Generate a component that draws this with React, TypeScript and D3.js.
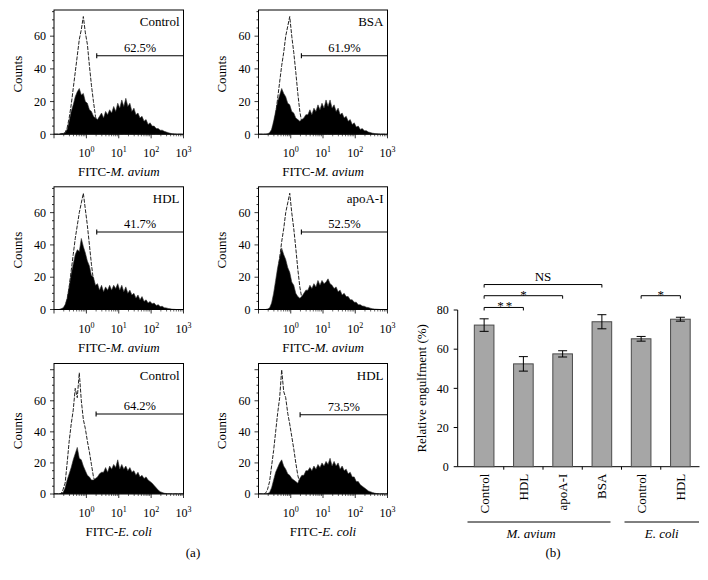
import React from "react";
import * as d3 from "d3";

const FONT = "'Liberation Serif','Times New Roman',Times,serif";

// ---------- Flow cytometry histograms (64 log bins from 10^-1 to 10^3) ----------
const ctrlMavBlack = [0,0,0,0.5,0.5,1,3,8,14,18,23,26,28,24,25,20,19,15,14,11,10,9,11,13,10,14,12,15,13,17,14,19,16,21,17,22,17,19,14,16,12,13,10,11,8,9,6,7,5,5,3.5,3.5,2.5,2.5,1.8,1.4,1,0.6,0.4,0.2,0.1,0,0,0];
const ctrlMavOpen = [0,0,0,0,0.5,1,4,10,18,28,38,48,58,64,72,62,55,42,30,20,11,6,3,1.5,1,0.5,0,0,0,0,0,0,0,0,0,0,0,0,0,0,0,0,0,0,0,0,0,0,0,0,0,0,0,0,0,0,0,0,0,0,0,0,0,0];
const bsaBlack = [0,0,0,0,0.3,1,3,8,14,20,24,28,25,23,19,18,14,13,10,9,8,9,10,12,12,15,12,16,14,18,15,19,16,21,17,21,16,18,14,16,12,13,10,11,8,9,6,7,4.5,5,3,3.5,2.2,2.2,1.4,1.1,0.7,0.5,0.3,0.2,0.1,0,0,0];
const bsaOpen = [0,0,0,0,0,0.5,2,6,12,22,32,42,50,60,66,72,60,50,38,25,14,7,3,1.5,1,0.5,0,0,0,0,0,0,0,0,0,0,0,0,0,0,0,0,0,0,0,0,0,0,0,0,0,0,0,0,0,0,0,0,0,0,0,0,0,0];
const hdlMavBlack = [0,0,0,0.5,1,3,7,14,22,28,34,37,36,44,39,35,30,27,21,20,15,16,12,15,11,14,12,15,12,15,13,16,12,15,11,14,10,12,9,10,7,9,6,8,5,6,4,5,3.5,4,2.5,3,1.8,2,1.1,1,0.6,0.4,0.2,0.1,0,0,0,0];
const hdlMavOpen = [0,0,0,0,0.5,2,6,14,24,34,44,52,60,66,72,62,52,40,28,18,10,5,2.5,1,0.5,0,0,0,0,0,0,0,0,0,0,0,0,0,0,0,0,0,0,0,0,0,0,0,0,0,0,0,0,0,0,0,0,0,0,0,0,0,0,0];
const apoBlack = [0,0,0,0,0.3,1,4,10,18,26,32,38,34,31,26,23,17,15,10,8,7,8,10,12,12,15,13,16,14,18,15,18,16,17,19,16,15,13,14,11,12,9,10,8,8,6,6,4.5,4.5,3,3,2.2,2,1.4,1.2,0.8,0.5,0.3,0.2,0.1,0,0,0,0];
const apoOpen = [0,0,0,0,0,0.5,2,6,12,22,32,42,50,60,66,72,60,50,38,25,14,7,3,1.5,1,0.5,0,0,0,0,0,0,0,0,0,0,0,0,0,0,0,0,0,0,0,0,0,0,0,0,0,0,0,0,0,0,0,0,0,0,0,0,0,0];
const ctrlEcoBlack = [0,0,0,0.5,1,4,9,13,17,22,26,30,23,22,18,15,12,11,9,9,10,11,13,14,14,17,14,18,16,19,17,22,16,19,16,18,15,17,14,15,12,14,11,12,10,11,9,8,7,5.5,4,2.5,1.5,1,0.5,0.3,0.1,0,0,0,0,0,0,0];
const ctrlEcoOpen = [0,0,0,0,3,7,20,34,45,54,68,62,78,60,48,42,34,27,19,11,7,3,1.5,0.5,0,0,0,0,0,0,0,0,0,0,0,0,0,0,0,0,0,0,0,0,0,0,0,0,0,0,0,0,0,0,0,0,0,0,0,0,0,0,0,0];
const hdlEcoBlack = [0,0,0,0,0.3,1,4,9,14,17,20,22,18,16,13,12,10,9,8,7,10,12,12,15,15,17,15,18,16,19,17,20,18,21,19,23,18,21,18,20,16,18,15,16,13,14,11,11,8,8,6,5,4,3,2,1.5,1,0.6,0.3,0.1,0,0,0,0];
const hdlEcoOpen = [0,0,0,0.5,3,8,18,28,40,52,62,80,66,62,52,45,37,29,20,12,7,3,1.5,0.5,0,0,0,0,0,0,0,0,0,0,0,0,0,0,0,0,0,0,0,0,0,0,0,0,0,0,0,0,0,0,0,0,0,0,0,0,0,0,0,0];

const panelNames = ["Control", "BSA", "HDL", "apoA-I", "Control", "HDL"];
const panelPercents = ["62.5%", "61.9%", "41.7%", "52.5%", "64.2%", "73.5%"];
const panelBacteria = ["M. avium", "M. avium", "M. avium", "M. avium", "E. coli", "E. coli"];
const panelBlack = [ctrlMavBlack, bsaBlack, hdlMavBlack, apoBlack, ctrlEcoBlack, hdlEcoBlack];
const panelOpen = [ctrlMavOpen, bsaOpen, hdlMavOpen, apoOpen, ctrlEcoOpen, hdlEcoOpen];
const gateStart = [0.32, 0.33, 0.32, 0.33, 0.3, 0.29];
const gateLevel = [48, 48, 48, 48, 51.5, 51];
const countMax = [76, 76, 76, 76, 84, 84];
const countTickLabels = [0, 20, 40, 60];
const decadeLabels = [0, 1, 2, 3];

// ---------- Bar chart ----------
const barCategories = ["Control", "HDL", "apoA-I", "BSA", "Control", "HDL"];
const engulfment = [72.3, 52.5, 57.6, 74, 65.3, 75.3];
const engulfErr = [3.2, 3.7, 1.6, 3.6, 1.2, 1.0];
const barTicks = [0, 20, 40, 60, 80];
const brackets = [
  { from: 0, to: 1, level: 81.3, label: "**" },
  { from: 0, to: 2, level: 87.3, label: "*" },
  { from: 0, to: 3, level: 93, label: "NS" },
  { from: 4, to: 5, level: 87.3, label: "*" },
];
const groups = [
  { label: "M. avium", from: 0, to: 3 },
  { label: "E. coli", from: 4, to: 5 },
];

// ---------- layout ----------
const cols = [
  { x0: 54, x1: 183.5 },
  { x0: 258.5, x1: 387.5 },
];
const rows = [
  { y0: 10, y1: 134.3 },
  { y0: 186.8, y1: 309.5 },
  { y0: 363.5, y1: 494 },
];

function Histogram({ i }: { i: number }) {
  const { x0, x1 } = cols[i % 2];
  const { y0, y1 } = rows[Math.floor(i / 2)];
  const x = d3.scaleLinear().domain([-1, 3]).range([x0, x1]);
  const y = d3.scaleLinear().domain([0, countMax[i]]).range([y1, y0]);
  const toPts = (arr: number[]) => {
    const p = arr.map((v, k) => ({ e: -1 + (k + 0.5) / 16, v }));
    return [{ e: -1, v: arr[0] }, ...p, { e: 3, v: arr[arr.length - 1] }];
  };
  const area = d3
    .area<{ e: number; v: number }>()
    .x((d) => x(d.e))
    .y0(y(0))
    .y1((d) => y(d.v));
  const line = d3
    .line<{ e: number; v: number }>()
    .x((d) => x(d.e))
    .y((d) => y(d.v));
  const clipId = `clip${i}`;
  const yTicks = d3.range(0, countMax[i] + 0.01, 5);
  const minors: number[] = [];
  for (let d = -1; d < 3; d++) for (let k = 2; k <= 9; k++) minors.push(d + Math.log10(k));
  const gx = x(gateStart[i]);
  const gy = y(gateLevel[i]);
  return (
    <g>
      <defs>
        <clipPath id={clipId}>
          <rect x={x0} y={y0} width={x1 - x0} height={y1 - y0} />
        </clipPath>
      </defs>
      <g clipPath={`url(#${clipId})`}>
        <path d={line(toPts(panelOpen[i])) || ""} fill="none" stroke="#222" strokeWidth={1} strokeDasharray="4 1.3" />
        <path d={area(toPts(panelBlack[i])) || ""} fill="#000" stroke="#333" strokeWidth={0.6} />
      </g>
      <rect x={x0} y={y0} width={x1 - x0} height={y1 - y0} fill="none" stroke="#000" strokeWidth={1} />
      {yTicks.map((t) => (
        <line key={"yt" + t} x1={x0} x2={x0 - (t % 20 === 0 ? 4 : 2)} y1={y(t)} y2={y(t)} stroke="#000" strokeWidth={0.8} />
      ))}
      {countTickLabels.map((t) => (
        <text key={"yl" + t} x={x0 - 8} y={y(t)} dy="0.35em" textAnchor="end" fontSize={12} fill="#000">
          {t}
        </text>
      ))}
      {[-1, 0, 1, 2, 3].map((d) => (
        <line key={"xm" + d} x1={x(d)} x2={x(d)} y1={y1} y2={y1 + 4} stroke="#000" strokeWidth={0.8} />
      ))}
      {minors.map((d, k) => (
        <line key={"xn" + k} x1={x(d)} x2={x(d)} y1={y1} y2={y1 + 2} stroke="#000" strokeWidth={0.6} />
      ))}
      {decadeLabels.map((d) => (
        <text key={"xl" + d} x={x(d)} y={y1 + 23} textAnchor="middle" fontSize={12} fill="#000">
          <tspan>10</tspan>
          <tspan dy={-5} fontSize={8}>
            {d}
          </tspan>
        </text>
      ))}
      <text x={(x0 + x1) / 2} y={y1 + 42} textAnchor="middle" fontSize={13} fill="#000">
        FITC-<tspan fontStyle="italic">{panelBacteria[i]}</tspan>
      </text>
      <text transform={`translate(${x0 - 37},${(y0 + y1) / 2 + 2}) rotate(-90)`} textAnchor="middle" dy="0.35em" fontSize={13} fill="#000">
        Counts
      </text>
      <text x={x1 - 4} y={y0 + 16} textAnchor="end" fontSize={13} fill="#000">
        {panelNames[i]}
      </text>
      <line x1={gx} x2={x1} y1={gy} y2={gy} stroke="#000" strokeWidth={1.1} />
      <line x1={gx} x2={gx} y1={gy - 2.5} y2={gy + 2.5} stroke="#000" strokeWidth={1.1} />
      <text x={(gx + x1) / 2} y={gy - 4} textAnchor="middle" fontSize={12.5} fill="#000">
        {panelPercents[i]}
      </text>
    </g>
  );
}

function BarChart() {
  const axisX = 457.7;
  const xEnd = 699.5;
  const x = d3
    .scaleBand<number>()
    .domain(d3.range(barCategories.length))
    .range([464.5, 700])
    .paddingInner(0.5)
    .paddingOuter(0.25);
  const y = d3.scaleLinear().domain([0, 80]).range([466.7, 310]);
  const bw = x.bandwidth();
  const step = x.step();
  const cx = (k: number) => (x(k) as number) + bw / 2;
  const boundaries = d3.range(1, barCategories.length).map((k) => 464.5 + k * step);
  const groupStartOff = [3, 3];
  const groupEndOff = [-11, -1];
  const groupLabelOff = [-8, 0];
  return (
    <g>
      <line x1={axisX} x2={axisX} y1={y(0)} y2={y(80)} stroke="#000" strokeWidth={1} />
      <line x1={axisX} x2={xEnd} y1={y(0)} y2={y(0)} stroke="#000" strokeWidth={1} />
      {barTicks.map((t) => (
        <g key={"bt" + t}>
          <line x1={axisX - 4} x2={axisX} y1={y(t)} y2={y(t)} stroke="#000" strokeWidth={1} />
          <text x={axisX - 9} y={y(t)} dy="0.35em" textAnchor="end" fontSize={12} fill="#000">
            {t}
          </text>
        </g>
      ))}
      {boundaries.map((b, k) => (
        <line key={"bb" + k} x1={b} x2={b} y1={y(0)} y2={y(0) + 3} stroke="#000" strokeWidth={1} />
      ))}
      <text transform={`translate(421.5,${(y(0) + y(80)) / 2}) rotate(-90)`} textAnchor="middle" dy="0.35em" fontSize={13} fill="#000">
        Relative engulfment (%)
      </text>
      {engulfment.map((v, k) => (
        <g key={"bar" + k}>
          <rect x={x(k)} y={y(v)} width={bw} height={y(0) - y(v)} fill="#a6a6a6" stroke="#4a4a4a" strokeWidth={1} />
          <line x1={cx(k)} x2={cx(k)} y1={y(v + engulfErr[k])} y2={y(v - engulfErr[k])} stroke="#000" strokeWidth={1} />
          <line x1={cx(k) - 4.5} x2={cx(k) + 4.5} y1={y(v + engulfErr[k])} y2={y(v + engulfErr[k])} stroke="#000" strokeWidth={1} />
          <line x1={cx(k) - 4.5} x2={cx(k) + 4.5} y1={y(v - engulfErr[k])} y2={y(v - engulfErr[k])} stroke="#000" strokeWidth={1} />
          <text transform={`translate(${cx(k)},${y(0) + 7}) rotate(-90)`} textAnchor="end" dy="0.35em" fontSize={13} fill="#000">
            {barCategories[k]}
          </text>
        </g>
      ))}
      {brackets.map((b, k) => {
        const by = y(b.level);
        const xa = cx(b.from);
        const xb = cx(b.to);
        return (
          <g key={"br" + k}>
            <path d={`M${xa},${by + 3}V${by}H${xb}V${by + 3}`} fill="none" stroke="#000" strokeWidth={1} />
            <text
              x={(xa + xb) / 2 + (b.label === "**" ? 2 : 0)}
              y={b.label === "NS" ? by - 4 : by + 3}
              textAnchor="middle"
              fontSize={13}
              fill="#000"
              letterSpacing={b.label === "**" ? 2 : 0}
            >
              {b.label}
            </text>
          </g>
        );
      })}
      {groups.map((g, k) => {
        const xa = (x(g.from) as number) - step * 0.25 + groupStartOff[k];
        const xb = (x(g.to) as number) + bw + step * 0.25 + groupEndOff[k];
        return (
          <g key={"g" + k}>
            <line x1={xa} x2={xb} y1={522} y2={522} stroke="#000" strokeWidth={1} />
            <text x={(xa + xb) / 2 + groupLabelOff[k]} y={538} textAnchor="middle" fontSize={13} fontStyle="italic" fill="#000">
              {g.label}
            </text>
          </g>
        );
      })}
    </g>
  );
}

export default function App() {
  return (
    <svg
      width={708}
      height={580}
      viewBox="0 0 708 580"
      style={{ position: "absolute", left: 0, top: 0, background: "#fff" }}
      fontFamily={FONT}
    >
      <rect x={0} y={0} width={708} height={580} fill="#fff" />
      {d3.range(6).map((i) => (
        <Histogram key={i} i={i} />
      ))}
      <BarChart />
      <text x={193} y={557} textAnchor="middle" fontSize={13} fill="#000">
        (a)
      </text>
      <text x={553} y={557} textAnchor="middle" fontSize={13} fill="#000">
        (b)
      </text>
    </svg>
  );
}
